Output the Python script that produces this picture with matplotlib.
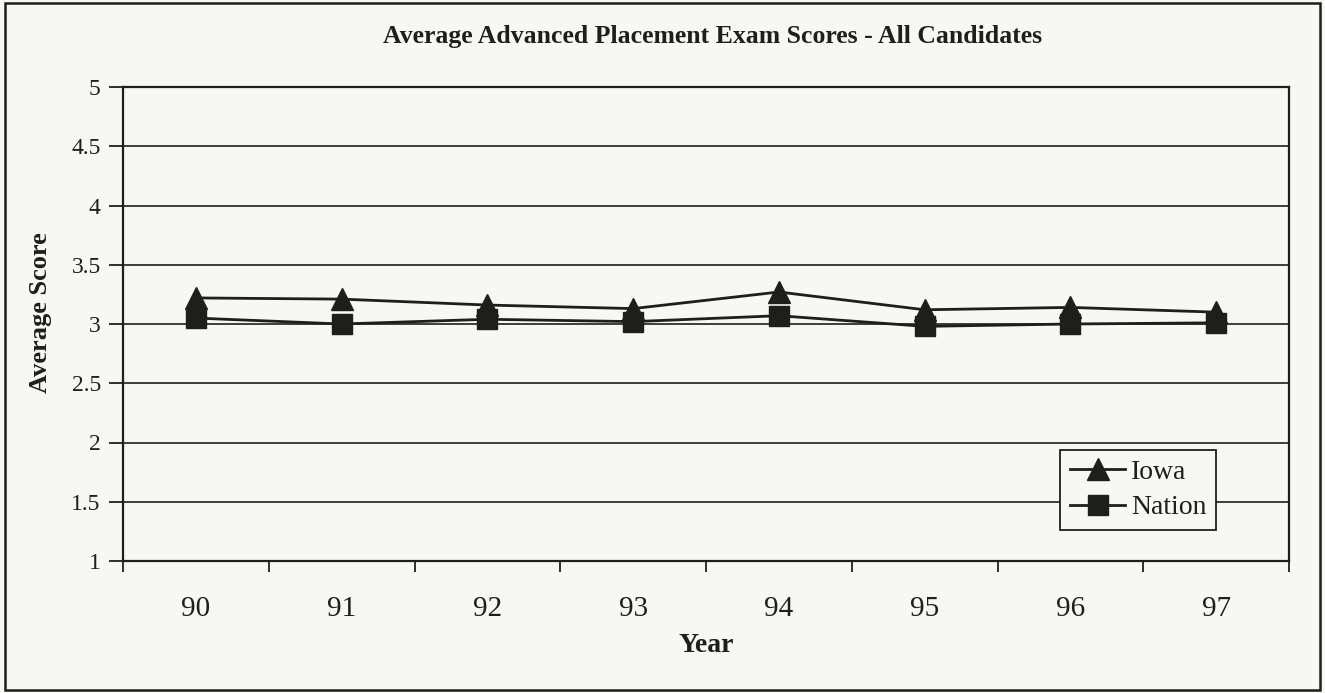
import matplotlib
matplotlib.use('Agg')
import matplotlib.pyplot as plt
from matplotlib.patches import Rectangle
from matplotlib.ticker import FixedLocator

# data
years = ['90', '91', '92', '93', '94', '95', '96', '97']
iowa = [3.22, 3.21, 3.16, 3.13, 3.27, 3.12, 3.14, 3.10]
nation = [3.05, 3.00, 3.04, 3.02, 3.07, 2.98, 3.00, 3.01]
yticks = [1, 1.5, 2, 2.5, 3, 3.5, 4, 4.5, 5]
ytick_labels = ['1', '1.5', '2', '2.5', '3', '3.5', '4', '4.5', '5']

plt.rcParams['font.family'] = ['Liberation Serif', 'DejaVu Serif']

bg = '#f7f7f5'
ink = '#1c1f1c'

fig = plt.figure(figsize=(13.25, 6.93), dpi=100, facecolor=bg)
ax = fig.add_axes([123/1325, 1 - 561/693, (1289 - 123)/1325, (561 - 87)/693])
ax.set_facecolor(bg)

x = list(range(len(years)))

# gridlines
ax.set_ylim(1, 5)
ax.set_yticks(yticks)
ax.set_yticklabels(ytick_labels)
ax.yaxis.grid(True, color=ink, linewidth=1.2)
ax.set_axisbelow(True)

# series
ax.plot(x, iowa, color=ink, linewidth=2.0, marker='^', markersize=16,
        label='Iowa', zorder=3)
ax.plot(x, nation, color=ink, linewidth=2.0, marker='s', markersize=14,
        label='Nation', zorder=3)

# category axis: labels in the middle, ticks between
ax.set_xlim(-0.5, len(years) - 0.5)
ax.set_xticks(x)
ax.set_xticklabels(years, fontsize=21)
ax.tick_params(axis='x', which='major', length=0, pad=25, colors=ink)
ax.xaxis.set_minor_locator(FixedLocator([i - 0.5 for i in range(len(years) + 1)]))
ax.tick_params(axis='x', which='minor', length=8, width=1.3, direction='out', color=ink)

ax.tick_params(axis='y', length=10, width=1.3, direction='out', labelsize=17,
               colors=ink, pad=6)

for s in ['left', 'bottom', 'right', 'top']:
    ax.spines[s].set_color(ink)
    ax.spines[s].set_linewidth(1.6)

ax.set_ylabel('Average Score', fontsize=19, fontweight='bold', color=ink)
ax.yaxis.set_label_coords(-0.061, 0.525)
ax.set_xlabel('Year', fontsize=20, fontweight='bold', color=ink, labelpad=8)

fig.text(0.538, 1 - 36/693, 'Average Advanced Placement Exam Scores - All Candidates',
         ha='center', va='center', fontsize=18.5, fontweight='bold', color=ink)

leg = ax.legend(loc='upper left', bbox_to_anchor=(1060/1325, 1 - 450/693),
                bbox_transform=fig.transFigure, fontsize=20, frameon=True,
                fancybox=False, edgecolor=ink, facecolor=bg, framealpha=1,
                handlelength=2.0, handletextpad=0.2, borderpad=0.35,
                labelspacing=0.35, borderaxespad=0)
leg.get_frame().set_linewidth(1.3)
for t in leg.get_texts():
    t.set_color(ink)

# outer chart border
fig.patches.append(Rectangle((5/1325, 3/693), 1315/1325, 687/693,
                             transform=fig.transFigure, fill=False,
                             edgecolor=ink, linewidth=1.8))

fig.savefig('out.png', dpi=100, facecolor=bg)
